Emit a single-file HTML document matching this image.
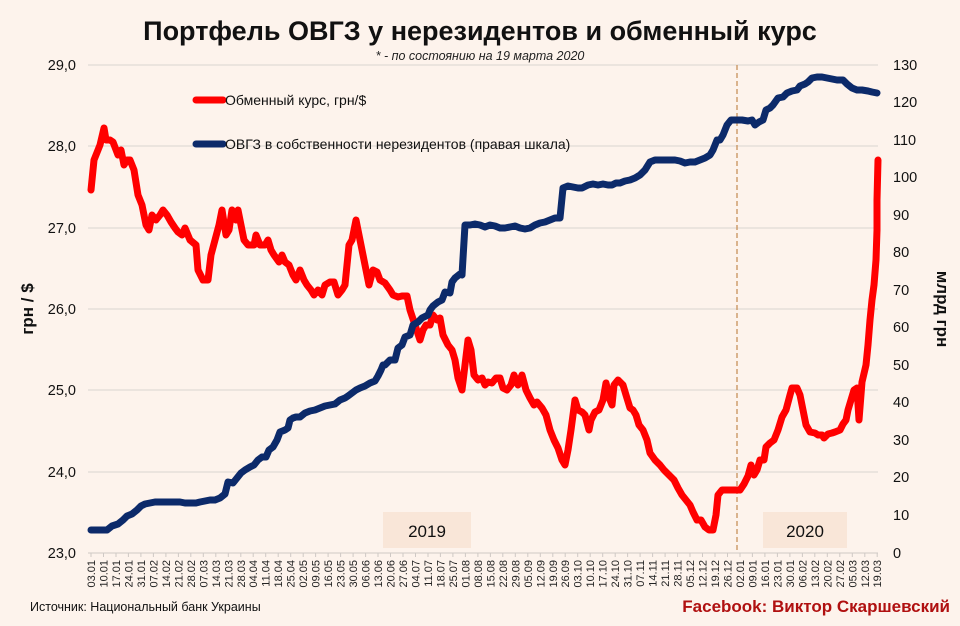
<!DOCTYPE html>
<html><head><meta charset="utf-8"><style>
body{margin:0;background:#fdf3ec;}
svg{display:block;font-family:"Liberation Sans",sans-serif;}
</style></head><body>
<svg width="960" height="626" viewBox="0 0 960 626" xmlns="http://www.w3.org/2000/svg">
<rect width="960" height="626" fill="#fdf3ec"/>
<text x="480" y="40" text-anchor="middle" font-size="27" font-weight="bold" fill="#111">Портфель ОВГЗ у нерезидентов и обменный курс</text>
<text x="480" y="60" text-anchor="middle" font-size="12.5" font-style="italic" fill="#222">* - по состоянию на 19 марта 2020</text>
<g stroke="#d9d4d0" stroke-width="1">
<line x1="88" y1="65" x2="878" y2="65"/><line x1="88" y1="146" x2="878" y2="146"/><line x1="88" y1="228" x2="878" y2="228"/><line x1="88" y1="309" x2="878" y2="309"/><line x1="88" y1="390" x2="878" y2="390"/><line x1="88" y1="472" x2="878" y2="472"/>
</g>
<rect x="383" y="512" width="88" height="36" fill="#f9e6d8"/>
<rect x="763" y="512" width="84" height="36" fill="#f9e6d8"/>
<text x="427" y="537" text-anchor="middle" font-size="17" fill="#111">2019</text>
<text x="805" y="537" text-anchor="middle" font-size="17" fill="#111">2020</text>
<line x1="737" y1="65" x2="737" y2="553" stroke="#c8915a" stroke-width="1.3" stroke-dasharray="5,3"/>
<g font-size="14.5" fill="#111" text-anchor="end">
<text x="76" y="70">29,0</text><text x="76" y="151">28,0</text><text x="76" y="233">27,0</text><text x="76" y="314">26,0</text><text x="76" y="395">25,0</text><text x="76" y="477">24,0</text><text x="76" y="558">23,0</text>
</g>
<g font-size="14.5" fill="#111">
<text x="893" y="70">130</text><text x="893" y="107">120</text><text x="893" y="145">110</text><text x="893" y="182">100</text><text x="893" y="220">90</text><text x="893" y="257">80</text><text x="893" y="295">70</text><text x="893" y="332">60</text><text x="893" y="370">50</text><text x="893" y="407">40</text><text x="893" y="445">30</text><text x="893" y="482">20</text><text x="893" y="520">10</text><text x="893" y="558">0</text>
</g>
<text transform="translate(33,309) rotate(-90)" text-anchor="middle" font-size="17" font-weight="bold" fill="#111">грн / $</text>
<text transform="translate(937,309) rotate(90)" text-anchor="middle" font-size="17" font-weight="bold" fill="#111">млрд грн</text>
<polyline fill="none" stroke="#ff0000" stroke-width="7" stroke-linejoin="round" stroke-linecap="round" points="91,190 94,160 100,145 104,128 106,140 110,140 113,142 118,155 121,150 124,165 127,160 130,160 134,170 138,195 142,205 146,225 149,230 152,215 156,220 160,215 163,210 167,215 171,222 175,228 178,232 182,235 185,228 190,240 196,245 198,270 203,280 208,280 211,255 215,240 219,225 222,210 226,235 229,230 232,210 236,220 238,210 241,225 244,240 248,245 254,245 256,235 260,245 265,245 268,240 271,250 274,255 279,262 282,255 285,262 289,265 293,275 296,280 300,270 304,280 307,285 311,290 314,295 318,290 322,295 325,285 330,282 334,282 338,295 342,290 345,285 349,245 352,240 356,220 359,235 362,250 365,265 369,285 373,270 377,272 380,280 385,283 390,290 393,295 398,297 402,296 407,296 410,310 415,325 420,340 423,330 426,325 430,325 433,315 437,320 440,318 443,335 448,345 452,350 455,360 458,378 462,390 465,365 468,340 471,350 474,375 478,380 482,378 485,385 488,382 492,383 496,378 500,378 503,388 507,390 511,385 514,375 518,385 522,375 526,390 530,398 534,405 537,402 542,408 546,415 550,430 554,440 558,448 562,460 565,465 568,450 571,430 575,400 578,410 582,412 585,415 589,430 591,420 595,412 599,410 603,400 606,383 610,400 612,405 614,385 618,380 623,385 626,395 630,408 633,410 636,415 639,425 643,430 647,440 650,453 655,460 660,465 664,470 669,475 674,480 678,488 682,495 686,500 690,505 693,512 697,520 701,520 705,527 709,530 713,530 716,515 718,495 722,490 728,490 734,490 740,490 744,484 748,476 751,465 754,475 757,470 760,460 764,460 766,447 770,443 774,440 778,430 782,417 786,410 790,395 792,388 797,388 800,395 803,410 806,425 810,432 815,433 818,435 822,435 824,438 828,434 832,433 835,432 840,430 843,424 846,420 848,410 851,400 854,390 857,388 859,420 862,382 866,365 868,345 870,320 872,300 874,285 876,260 877,230 877,200 878,160"/>
<polyline fill="none" stroke="#0c2a6a" stroke-width="7" stroke-linejoin="round" stroke-linecap="round" points="91,530 100,530 107,530 112,526 118,524 123,520 127,516 132,514 137,510 141,506 145,504 150,503 155,502 160,502 168,502 175,502 180,502 185,503 190,503 196,503 200,502 205,501 210,500 215,500 220,498 225,494 228,482 233,483 237,478 241,473 245,470 250,467 254,465 258,460 262,457 266,457 269,450 273,447 277,440 280,432 285,430 288,428 290,420 293,418 296,417 300,417 305,413 310,411 315,410 320,408 325,406 330,405 335,404 340,400 345,398 348,396 352,393 356,390 360,388 365,386 370,383 375,381 378,376 381,370 383,365 385,365 390,360 395,360 398,348 402,345 405,337 410,335 413,325 418,322 422,318 428,315 430,310 433,306 438,302 442,300 445,292 450,293 452,282 455,278 460,274 462,275 465,225 470,225 475,224 480,225 485,227 490,225 495,226 500,228 505,228 510,227 515,226 520,228 525,229 530,228 535,225 540,223 545,222 550,220 555,218 560,218 563,188 568,186 573,187 578,188 582,188 588,185 593,184 598,185 603,184 608,185 612,185 616,183 620,183 625,181 630,180 635,178 640,175 645,170 650,162 655,160 660,160 665,160 670,160 675,160 680,161 685,163 690,162 695,162 700,160 705,158 710,155 713,150 717,140 720,140 723,135 727,125 731,120 736,120 742,120 748,121 752,120 755,125 759,122 763,120 766,110 770,108 773,105 778,98 783,97 787,93 792,91 797,90 800,86 805,84 808,82 812,78 817,77 822,77 827,78 832,79 837,80 843,80 847,84 852,88 857,90 862,90 868,91 872,92 877,93"/>
<line x1="196" y1="100" x2="223" y2="100" stroke="#ff0000" stroke-width="7" stroke-linecap="round"/>
<text x="225" y="105" font-size="14" fill="#111">Обменный курс, грн/$</text>
<line x1="196" y1="144" x2="223" y2="144" stroke="#0c2a6a" stroke-width="7" stroke-linecap="round"/>
<text x="225" y="149" font-size="14" fill="#111">ОВГЗ в собственности  нерезидентов (правая шкала)</text>
<line x1="88" y1="553" x2="878" y2="553" stroke="#cfc9c5" stroke-width="1"/>
<g stroke="#cfc9c5" stroke-width="1">
<path d="M91 553v4M103.5 553v4M116 553v4M128.4 553v4M140.9 553v4M153.4 553v4M165.9 553v4M178.4 553v4M190.8 553v4M203.3 553v4M215.8 553v4M228.3 553v4M240.8 553v4M253.2 553v4M265.7 553v4M278.2 553v4M290.7 553v4M303.2 553v4M315.6 553v4M328.1 553v4M340.6 553v4M353.1 553v4M365.6 553v4M378 553v4M390.5 553v4M403 553v4M415.5 553v4M428 553v4M440.4 553v4M452.9 553v4M465.4 553v4M477.9 553v4M490.4 553v4M502.8 553v4M515.3 553v4M527.8 553v4M540.3 553v4M552.8 553v4M565.2 553v4M577.7 553v4M590.2 553v4M602.7 553v4M615.2 553v4M627.6 553v4M640.1 553v4M652.6 553v4M665.1 553v4M677.6 553v4M690 553v4M702.5 553v4M715 553v4M727.5 553v4M740 553v4M752.4 553v4M764.9 553v4M777.4 553v4M789.9 553v4M802.4 553v4M814.8 553v4M827.3 553v4M839.8 553v4M852.3 553v4M864.8 553v4M877.2 553v4"/>
</g>
<g font-size="11" fill="#222" text-anchor="end">
<text transform="translate(95,560) rotate(-90)">03.01</text>
<text transform="translate(107.5,560) rotate(-90)">10.01</text>
<text transform="translate(120,560) rotate(-90)">17.01</text>
<text transform="translate(132.4,560) rotate(-90)">24.01</text>
<text transform="translate(144.9,560) rotate(-90)">31.01</text>
<text transform="translate(157.4,560) rotate(-90)">07.02</text>
<text transform="translate(169.9,560) rotate(-90)">14.02</text>
<text transform="translate(182.4,560) rotate(-90)">21.02</text>
<text transform="translate(194.8,560) rotate(-90)">28.02</text>
<text transform="translate(207.3,560) rotate(-90)">07.03</text>
<text transform="translate(219.8,560) rotate(-90)">14.03</text>
<text transform="translate(232.3,560) rotate(-90)">21.03</text>
<text transform="translate(244.8,560) rotate(-90)">28.03</text>
<text transform="translate(257.2,560) rotate(-90)">04.04</text>
<text transform="translate(269.7,560) rotate(-90)">11.04</text>
<text transform="translate(282.2,560) rotate(-90)">18.04</text>
<text transform="translate(294.7,560) rotate(-90)">25.04</text>
<text transform="translate(307.2,560) rotate(-90)">02.05</text>
<text transform="translate(319.6,560) rotate(-90)">09.05</text>
<text transform="translate(332.1,560) rotate(-90)">16.05</text>
<text transform="translate(344.6,560) rotate(-90)">23.05</text>
<text transform="translate(357.1,560) rotate(-90)">30.05</text>
<text transform="translate(369.6,560) rotate(-90)">06.06</text>
<text transform="translate(382,560) rotate(-90)">13.06</text>
<text transform="translate(394.5,560) rotate(-90)">20.06</text>
<text transform="translate(407,560) rotate(-90)">27.06</text>
<text transform="translate(419.5,560) rotate(-90)">04.07</text>
<text transform="translate(432,560) rotate(-90)">11.07</text>
<text transform="translate(444.4,560) rotate(-90)">18.07</text>
<text transform="translate(456.9,560) rotate(-90)">25.07</text>
<text transform="translate(469.4,560) rotate(-90)">01.08</text>
<text transform="translate(481.9,560) rotate(-90)">08.08</text>
<text transform="translate(494.4,560) rotate(-90)">15.08</text>
<text transform="translate(506.8,560) rotate(-90)">22.08</text>
<text transform="translate(519.3,560) rotate(-90)">29.08</text>
<text transform="translate(531.8,560) rotate(-90)">05.09</text>
<text transform="translate(544.3,560) rotate(-90)">12.09</text>
<text transform="translate(556.8,560) rotate(-90)">19.09</text>
<text transform="translate(569.2,560) rotate(-90)">26.09</text>
<text transform="translate(581.7,560) rotate(-90)">03.10</text>
<text transform="translate(594.2,560) rotate(-90)">10.10</text>
<text transform="translate(606.7,560) rotate(-90)">17.10</text>
<text transform="translate(619.2,560) rotate(-90)">24.10</text>
<text transform="translate(631.6,560) rotate(-90)">31.10</text>
<text transform="translate(644.1,560) rotate(-90)">07.11</text>
<text transform="translate(656.6,560) rotate(-90)">14.11</text>
<text transform="translate(669.1,560) rotate(-90)">21.11</text>
<text transform="translate(681.6,560) rotate(-90)">28.11</text>
<text transform="translate(694,560) rotate(-90)">05.12</text>
<text transform="translate(706.5,560) rotate(-90)">12.12</text>
<text transform="translate(719,560) rotate(-90)">19.12</text>
<text transform="translate(731.5,560) rotate(-90)">26.12</text>
<text transform="translate(744,560) rotate(-90)">02.01</text>
<text transform="translate(756.4,560) rotate(-90)">09.01</text>
<text transform="translate(768.9,560) rotate(-90)">16.01</text>
<text transform="translate(781.4,560) rotate(-90)">23.01</text>
<text transform="translate(793.9,560) rotate(-90)">30.01</text>
<text transform="translate(806.4,560) rotate(-90)">06.02</text>
<text transform="translate(818.8,560) rotate(-90)">13.02</text>
<text transform="translate(831.3,560) rotate(-90)">20.02</text>
<text transform="translate(843.8,560) rotate(-90)">27.02</text>
<text transform="translate(856.3,560) rotate(-90)">05.03</text>
<text transform="translate(868.8,560) rotate(-90)">12.03</text>
<text transform="translate(881.2,560) rotate(-90)">19.03</text>
</g>
<text x="30" y="611" font-size="12.5" fill="#111">Источник: Национальный банк Украины</text>
<text x="950" y="612" text-anchor="end" font-size="17" font-weight="bold" fill="#b01010">Facebook: Виктор Скаршевский</text>
</svg>
</body></html>
